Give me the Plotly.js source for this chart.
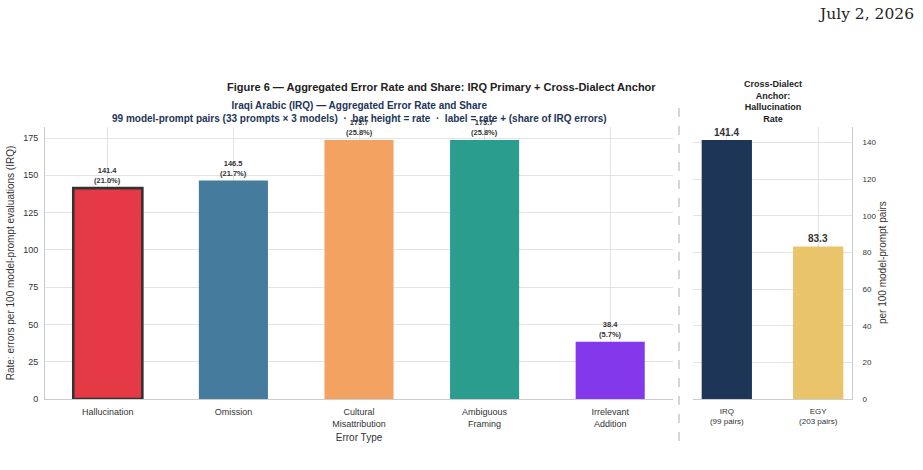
<!DOCTYPE html>
<html>
<head>
<meta charset="utf-8">
<script src="https://cdn.plot.ly/plotly-3.0.1.min.js"></script>
<style>
  html, body { margin: 0; padding: 0; background: #ffffff; }
  #chart { width: 923px; height: 470px; }
</style>
</head>
<body>
<div id="chart"></div>
<script>
// Iraqi Arabic error categories and their aggregated rates
const errorTypes = ["Hallucination", "Omission", "Cultural<br>Misattribution", "Ambiguous<br>Framing", "Irrelevant<br>Addition"];
const errorRates = [141.4, 146.5, 173.7, 173.7, 38.4];
const errorShares = [21.0, 21.7, 25.8, 25.8, 5.7];
const errorColors = ["#e63946", "#457b9d", "#f4a261", "#2a9d8f", "#8338ec"];

// Cross-dialect hallucination anchor
const dialects = ["IRQ<br>(99 pairs)", "EGY<br>(203 pairs)"];
const dialectRates = [141.4, 83.3];
const dialectColors = ["#1d3557", "#e9c46a"];

const W = 923, H = 470;
const px = v => v / W;
const py = v => 1 - v / H;

const gridCol = "#e3e3e3";
const axisCol = "#cccccc";
const txtCol = "#333333";
const font = "Liberation Sans, Arial, sans-serif";

const traces = [
  {
    type: "bar",
    x: errorTypes,
    y: errorRates,
    width: 0.55,
    marker: {
      color: errorColors,
      line: { color: errorTypes.map((_, i) => i === 0 ? "#333333" : "rgba(0,0,0,0)"), width: errorTypes.map((_, i) => i === 0 ? 2.6 : 0) }
    },
    xaxis: "x", yaxis: "y",
    hoverinfo: "x+y"
  },
  {
    type: "bar",
    x: dialects,
    y: dialectRates,
    width: 0.55,
    marker: { color: dialectColors },
    xaxis: "x2", yaxis: "y2",
    hoverinfo: "x+y"
  }
];

const annotations = [];
errorTypes.forEach((c, i) => {
  annotations.push({
    xref: "x", yref: "y", x: c, y: errorRates[i],
    text: "<b>" + errorRates[i].toFixed(1) + "<br>(" + errorShares[i].toFixed(1) + "%)</b>",
    showarrow: false, yanchor: "bottom", yshift: 1,
    font: { family: font, size: 7.5, color: txtCol }
  });
});
dialects.forEach((c, i) => {
  annotations.push({
    xref: "x2", yref: "y2", x: c, y: dialectRates[i],
    text: "<b>" + dialectRates[i].toFixed(1) + "</b>",
    showarrow: false, yanchor: "bottom", yshift: 0,
    font: { family: font, size: 10, color: txtCol }
  });
});

// Titles and date stamp
annotations.push(
  { xref: "paper", yref: "paper", x: px(916), y: py(14), xanchor: "right", yanchor: "middle",
    text: "July 2, 2026", showarrow: false,
    font: { family: "DejaVu Serif, Liberation Serif, serif", size: 15.5, color: "#222222" } },
  { xref: "paper", yref: "paper", x: px(441), y: py(87), xanchor: "center", yanchor: "middle",
    text: "<b>Figure 6 — Aggregated Error Rate and Share: IRQ Primary + Cross-Dialect Anchor</b>", showarrow: false,
    font: { family: font, size: 11, color: "#222222" } },
  { xref: "paper", yref: "paper", x: px(359), y: py(112), xanchor: "center", yanchor: "middle",
    text: "<b>Iraqi Arabic (IRQ) — Aggregated Error Rate and Share<br>99 model-prompt pairs (33 prompts × 3 models)  ·  bar height = rate  ·  label = rate + (share of IRQ errors)</b>",
    showarrow: false,
    font: { family: font, size: 10, color: "#1d3557" } },
  { xref: "paper", yref: "paper", x: px(773), y: py(102), xanchor: "center", yanchor: "middle",
    text: "<b>Cross-Dialect<br>Anchor:<br>Hallucination<br>Rate</b>", showarrow: false,
    font: { family: font, size: 9, color: "#222222" } },
  { xref: "paper", yref: "paper", x: px(882), y: py(263), xanchor: "center", yanchor: "middle",
    text: "per 100 model-prompt pairs", textangle: -90, showarrow: false,
    font: { family: font, size: 10, color: txtCol } }
);

const layout = {
  width: W, height: H,
  margin: { l: 0, r: 0, t: 0, b: 0 },
  paper_bgcolor: "#ffffff",
  plot_bgcolor: "#ffffff",
  showlegend: false,
  font: { family: font, color: txtCol },
  xaxis: {
    domain: [px(45), px(673)],
    range: [-0.5, 4.5],
    type: "category",
    showgrid: true, gridcolor: gridCol, gridwidth: 1,
    showline: true, linecolor: axisCol, linewidth: 1,
    ticks: "", ticklabelstandoff: 4,
    tickfont: { size: 9, color: txtCol, family: font },
    title: { text: "Error Type", font: { size: 10, color: txtCol, family: font }, standoff: 6 },
    anchor: "y",
    zeroline: false
  },
  yaxis: {
    domain: [py(399), py(127)],
    range: [0, 182.4],
    tickvals: [0, 25, 50, 75, 100, 125, 150, 175],
    showgrid: true, gridcolor: gridCol, gridwidth: 1,
    showline: true, linecolor: axisCol, linewidth: 1,
    zeroline: false,
    ticks: "", ticklabelstandoff: 4,
    tickfont: { size: 9, color: txtCol, family: font },
    title: { text: "Rate: errors per 100 model-prompt evaluations (IRQ)", font: { size: 10, color: txtCol, family: font }, standoff: 6 },
    anchor: "x"
  },
  xaxis2: {
    domain: [px(693), px(852)],
    range: [-0.37, 1.37],
    type: "category",
    showgrid: true, gridcolor: gridCol, gridwidth: 1,
    showline: true, linecolor: axisCol, linewidth: 1,
    ticks: "", ticklabelstandoff: 4,
    tickfont: { size: 8, color: txtCol, family: font },
    anchor: "y2",
    zeroline: false
  },
  yaxis2: {
    domain: [py(399), py(127)],
    range: [0, 148.5],
    tickvals: [0, 20, 40, 60, 80, 100, 120, 140],
    side: "right",
    showgrid: true, gridcolor: gridCol, gridwidth: 1,
    showline: true, linecolor: axisCol, linewidth: 1,
    zeroline: false,
    ticks: "", ticklabelstandoff: 8,
    tickfont: { size: 8, color: txtCol, family: font },
    anchor: "x2"
  },
  shapes: [
    { type: "line", xref: "paper", yref: "paper",
      x0: px(679), x1: px(679), y0: py(108), y1: py(443),
      line: { color: "#bbbbbb", width: 1.2, dash: "dash" } }
  ],
  annotations: annotations
};

Plotly.newPlot("chart", traces, layout, { displayModeBar: false, staticPlot: true });
</script>
</body>
</html>
